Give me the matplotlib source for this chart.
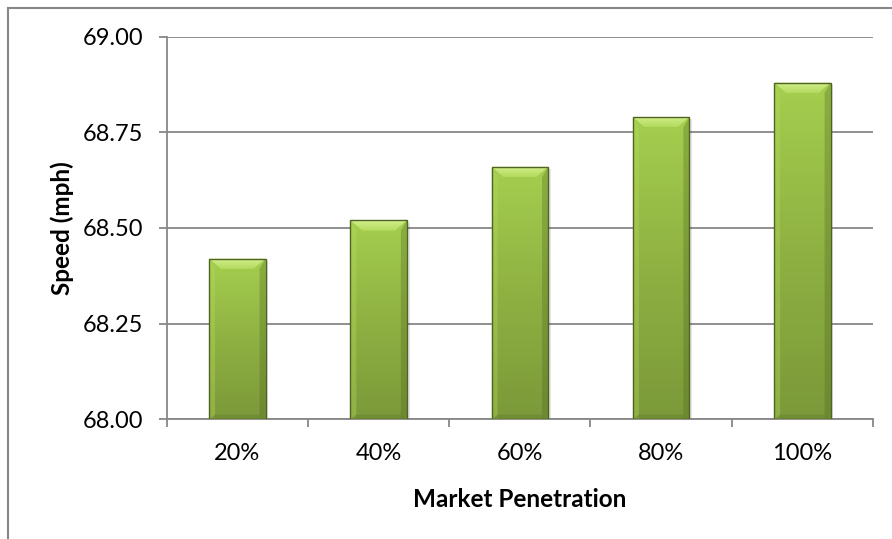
import matplotlib
matplotlib.use("Agg")
import matplotlib.pyplot as plt
import numpy as np
from matplotlib.colors import LinearSegmentedColormap
from matplotlib.patches import Polygon
from matplotlib.lines import Line2D

categories = ["20%", "40%", "60%", "80%", "100%"]
speeds = [68.42, 68.52, 68.66, 68.79, 68.88]
y_ticks = [68.00, 68.25, 68.50, 68.75, 69.00]
y_min, y_max = 68.00, 69.00
x_label = "Market Penetration"
y_label = "Speed (mph)"

plt.rcParams['font.family'] = ['Lato', 'DejaVu Sans']

W, H = 892, 539
fig = plt.figure(figsize=(W / 100, H / 100), dpi=100)
fig.patch.set_facecolor("white")

# outer chart border (top and left visible)
grey = "#878787"
fig.add_artist(Line2D([7.5 / W, 7.5 / W], [0, 1 - 7.5 / H], transform=fig.transFigure,
                      color=grey, lw=1.5))
fig.add_artist(Line2D([7.5 / W, 1], [1 - 7.5 / H, 1 - 7.5 / H], transform=fig.transFigure,
                      color=grey, lw=1.5))

left, right, top, bottom = 166.7, 873.0, 36.7, 419.3
ax = fig.add_axes([left / W, 1 - bottom / H, (right - left) / W, (bottom - top) / H])

x = np.arange(len(categories))
ax.set_xlim(-0.5, len(categories) - 0.5)
ax.set_ylim(y_min, y_max)

ax.set_yticks(y_ticks)
ax.set_yticklabels([f"{v:.2f}" for v in y_ticks])
ax.yaxis.grid(True, color=grey, lw=1.3)
ax.set_axisbelow(True)

ax.set_xticks(np.arange(-0.5, len(categories) + 0.5, 1.0))
ax.set_xticklabels([])
ax.set_xticks(x, minor=True)
ax.set_xticklabels(categories, minor=True)
ax.tick_params(axis="x", which="major", direction="out", length=6, width=1.3, color=grey)
ax.tick_params(axis="x", which="minor", length=0, pad=17, labelsize=17)
ax.tick_params(axis="y", direction="out", length=6, width=1.3, color=grey, pad=11, labelsize=17)

for s in ["top", "right"]:
    ax.spines[s].set_visible(False)
for s in ["left", "bottom"]:
    ax.spines[s].set_color(grey)
    ax.spines[s].set_linewidth(1.3)

ax.set_xlabel(x_label, fontsize=17.5, fontweight="bold", labelpad=17)
ax.set_ylabel(y_label, fontsize=17.5, fontweight="bold", labelpad=6)

bw = 0.4
bars = ax.bar(x, [v - y_min for v in speeds], bottom=y_min, width=bw,
              facecolor="none", edgecolor="none", zorder=3)

cmap = LinearSegmentedColormap.from_list("g", ["#7b9939", "#8fb142", "#a5cf4f"])
bevel_cmap = LinearSegmentedColormap.from_list("b", ["#b3da5c", "#d2ef8e"])
grad = np.linspace(0, 1, 256).reshape(-1, 1)
dx = 0.085
dy = 0.027
for rect, v in zip(bars, speeds):
    x0 = rect.get_x()
    x1 = x0 + rect.get_width()
    y0 = y_min
    y1 = v
    # soft shadow
    sh = Polygon([(x0 + 0.012, y0), (x1 + 0.02, y0), (x1 + 0.02, y1 - 0.006), (x0 + 0.012, y1 - 0.006)],
                 closed=True, facecolor="#000000", alpha=0.10, edgecolor="none", zorder=2.5)
    ax.add_patch(sh)
    im = ax.imshow(grad, cmap=cmap, aspect="auto", extent=(x0, x1, y0, y1),
                   origin="lower", zorder=3, interpolation="bicubic")
    im.set_clip_path(rect)
    # left bevel (lighter) and right bevel (darker)
    ax.add_patch(Polygon([(x0, y0), (x0, y1), (x0 + dx * 0.5, y1 - dy), (x0 + dx * 0.5, y0)],
                         closed=True, facecolor="#b4dc5e", alpha=0.35, edgecolor="none", zorder=3.2))
    ax.add_patch(Polygon([(x1, y0), (x1, y1), (x1 - dx * 0.5, y1 - dy), (x1 - dx * 0.5, y0)],
                         closed=True, facecolor="#4d6420", alpha=0.30, edgecolor="none", zorder=3.2))
    # top bevel with gradient
    bevel = Polygon([(x0, y1), (x1, y1), (x1 - dx, y1 - dy), (x0 + dx, y1 - dy)],
                    closed=True, facecolor="none", edgecolor="none", zorder=3.3)
    ax.add_patch(bevel)
    bim = ax.imshow(grad, cmap=bevel_cmap, aspect="auto", extent=(x0, x1, y1 - dy, y1),
                    origin="lower", zorder=3.3, interpolation="bicubic")
    bim.set_clip_path(bevel)
    # bottom darker band
    ax.add_patch(Polygon([(x0, y0), (x1, y0), (x1 - dx * 0.5, y0 + 0.012), (x0 + dx * 0.5, y0 + 0.012)],
                         closed=True, facecolor="#6a8530", alpha=0.6, edgecolor="none", zorder=3.3))
    # outline
    ax.add_patch(Polygon([(x0, y0), (x0, y1), (x1, y1), (x1, y0)], closed=True,
                         facecolor="none", edgecolor="#4f6322", lw=1.0, zorder=3.4))

fig.savefig("out.png", dpi=100, facecolor="white")
